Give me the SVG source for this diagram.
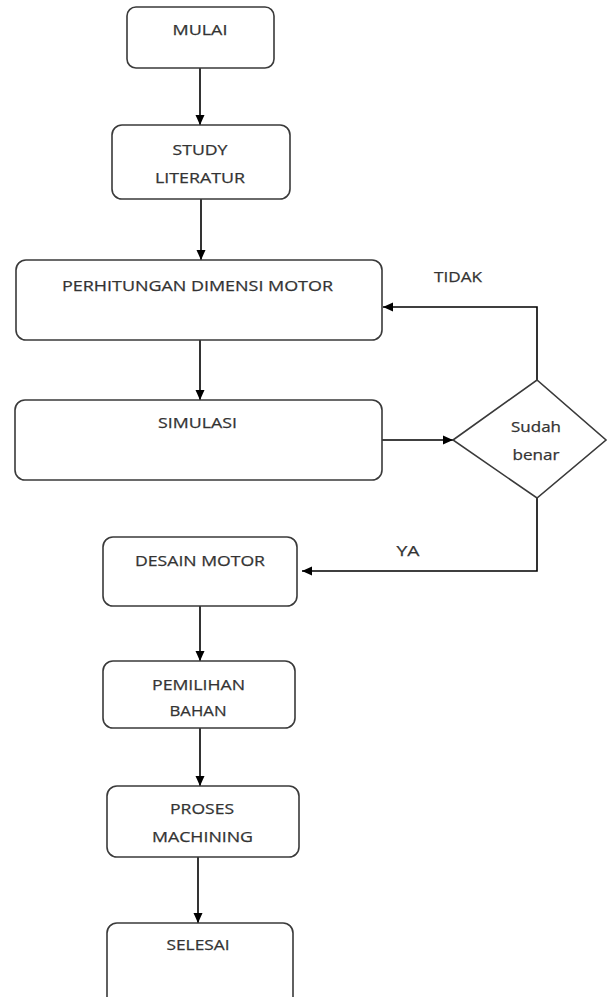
<svg xmlns="http://www.w3.org/2000/svg" width="608" height="997" viewBox="0 0 608 997">
<defs>
<marker id="arr" markerUnits="userSpaceOnUse" markerWidth="10" markerHeight="10" viewBox="0 0 10 10" refX="10" refY="5" orient="auto">
<path d="M0,0.5 L10,5 L0,9.5 Z" fill="#000"/>
</marker>
<style>
.box{fill:#fff;stroke:#3a3a3a;stroke-width:1.6}
.t{font-family:"Open Sans","Noto Sans",sans-serif;font-size:15px;fill:#333;stroke:#333;stroke-width:0.25;text-anchor:middle}
.c{fill:none;stroke:#000;stroke-width:1.6;marker-end:url(#arr)}
</style>
</defs>
<rect width="608" height="997" fill="#fff"/>
<g id="connectors">
<line class="c" x1="200" y1="68" x2="200" y2="125"/>
<line class="c" x1="201" y1="199" x2="201" y2="260"/>
<line class="c" x1="200" y1="340" x2="200" y2="400"/>
<line class="c" x1="382" y1="440" x2="453" y2="440"/>
<polyline class="c" points="537,380 537,307 383,307"/>
<polyline class="c" points="537,498 537,571 302,571"/>
<line class="c" x1="200" y1="606" x2="200" y2="661"/>
<line class="c" x1="200" y1="728" x2="200" y2="786"/>
<line class="c" x1="198" y1="857" x2="198" y2="923"/>
</g>
<g id="mulai">
<rect class="box" x="127" y="7" width="147" height="61" rx="9"/>
<text class="t" x="200" y="35" textLength="55" lengthAdjust="spacingAndGlyphs">MULAI</text>
</g>
<g id="study">
<rect class="box" x="112" y="125" width="178" height="74" rx="10"/>
<text class="t" x="200" y="155" textLength="55" lengthAdjust="spacingAndGlyphs">STUDY</text>
<text class="t" x="200" y="183" textLength="90" lengthAdjust="spacingAndGlyphs">LITERATUR</text>
</g>
<g id="perhitungan">
<rect class="box" x="16" y="260" width="366" height="80" rx="10"/>
<text class="t" x="197.5" y="291" textLength="271" lengthAdjust="spacingAndGlyphs">PERHITUNGAN DIMENSI MOTOR</text>
</g>
<g id="simulasi">
<rect class="box" x="15" y="400" width="367" height="80" rx="10"/>
<text class="t" x="197.5" y="428" textLength="79" lengthAdjust="spacingAndGlyphs">SIMULASI</text>
</g>
<g id="decision">
<polygon class="box" points="453,440 537,380 606,440 537,498"/>
<text class="t" x="536" y="432" textLength="50" lengthAdjust="spacingAndGlyphs">Sudah</text>
<text class="t" x="536" y="460" textLength="47" lengthAdjust="spacingAndGlyphs">benar</text>
</g>
<g id="labels">
<text class="t" x="458" y="282" textLength="48" lengthAdjust="spacingAndGlyphs">TIDAK</text>
<text class="t" x="408" y="556" textLength="23" lengthAdjust="spacingAndGlyphs">YA</text>
</g>
<g id="desain">
<rect class="box" x="103" y="537" width="194" height="69" rx="10"/>
<text class="t" x="200" y="566" textLength="130" lengthAdjust="spacingAndGlyphs">DESAIN MOTOR</text>
</g>
<g id="pemilihan">
<rect class="box" x="103" y="661" width="192" height="67" rx="10"/>
<text class="t" x="198.5" y="690" textLength="93" lengthAdjust="spacingAndGlyphs">PEMILIHAN</text>
<text class="t" x="198" y="716" textLength="57" lengthAdjust="spacingAndGlyphs">BAHAN</text>
</g>
<g id="proses">
<rect class="box" x="107" y="786" width="192" height="71" rx="10"/>
<text class="t" x="202" y="814" textLength="64" lengthAdjust="spacingAndGlyphs">PROSES</text>
<text class="t" x="202.5" y="842" textLength="101" lengthAdjust="spacingAndGlyphs">MACHINING</text>
</g>
<g id="selesai">
<rect class="box" x="107" y="923" width="186" height="100" rx="10"/>
<text class="t" x="198" y="950" textLength="63" lengthAdjust="spacingAndGlyphs">SELESAI</text>
</g>
</svg>
